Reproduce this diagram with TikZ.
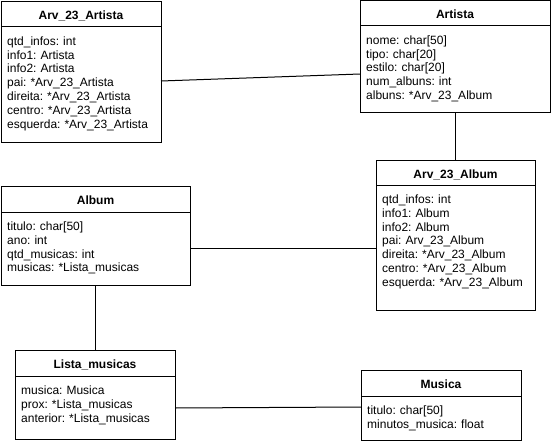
\documentclass[tikz,border=0pt]{standalone}
\usepackage{fontspec}
\setmainfont{Liberation Sans}
\tikzset{
  boxline/.style={line width=1pt, draw=black},
  classbox/.style={boxline, anchor=north west, inner sep=0pt, outer sep=0pt},
  titletext/.style={anchor=base, inner sep=0pt, font=\fontsize{12}{13.9}\selectfont\bfseries},
  bodytext/.style={anchor=north west, inner sep=0pt, align=left, font=\fontsize{12}{13.9}\selectfont\frenchspacing},
  conn/.style={line width=1pt, draw=black}
}
\newcommand\umlclass[8]{%
  \node[classbox, minimum width=#4pt, minimum height=#5pt] (#1) at (#2,-#3) {};
  \draw[boxline] ([yshift=-#6pt]#1.north west) -- ([yshift=-#6pt]#1.north east);
  \node[titletext] (#1t) at ([yshift=-18pt]#1.north) {#7};
  \node[bodytext, text width=#4pt-10pt] (#1b) at ([xshift=6pt,yshift=-#6pt-8pt]#1.north west) {\rule{0pt}{10pt}#8};
}
\begin{document}
\begin{tikzpicture}[x=1pt,y=1pt]
\useasboundingbox (0,0) rectangle (551,-444);
\umlclass{AA}{1}{2}{160}{140}{25}{Arv\_23\_Artista}{qtd\_infos: int\\info1: Artista\\info2: Artista\\pai: *Arv\_23\_Artista\\direita: *Arv\_23\_Artista\\centro: *Arv\_23\_Artista\\esquerda: *Arv\_23\_Artista}
\umlclass{AR}{360}{1}{190}{111}{25}{Artista}{nome: char[50]\\tipo: char[20]\\estilo: char[20]\\num\_albuns: int\\albuns: *Arv\_23\_Album}
\umlclass{AB}{376}{160}{159}{150}{25}{Arv\_23\_Album}{qtd\_infos: int\\info1: Album\\info2: Album\\pai: Arv\_23\_Album\\direita: *Arv\_23\_Album\\centro: *Arv\_23\_Album\\esquerda: *Arv\_23\_Album}
\umlclass{AL}{1}{186}{189}{99}{26}{Album}{titulo: char[50]\\ano: int\\qtd\_musicas: int\\musicas: *Lista\_musicas}
\umlclass{LM}{15}{350}{160}{89}{26}{Lista\_musicas}{musica: Musica\\prox: *Lista\_musicas\\anterior: *Lista\_musicas}
\umlclass{MU}{361}{370}{160}{70}{26}{Musica}{titulo: char[50]\\minutos\_musica: float}
\draw[conn] ([yshift=-9pt]AA.east) -- ([yshift=-17.5pt]AR.west);
\draw[conn] (AR.south) -- (AR.south |- AB.north);
\draw[conn] ([yshift=-12.5pt]AL.east) -- ([yshift=-12.5pt]AL.east -| AB.west);
\draw[conn] (AL.south) -- (AL.south |- LM.north);
\draw[conn] ([yshift=-13.5pt]LM.east) -- ([yshift=-2pt]MU.west);
\end{tikzpicture}
\end{document}
